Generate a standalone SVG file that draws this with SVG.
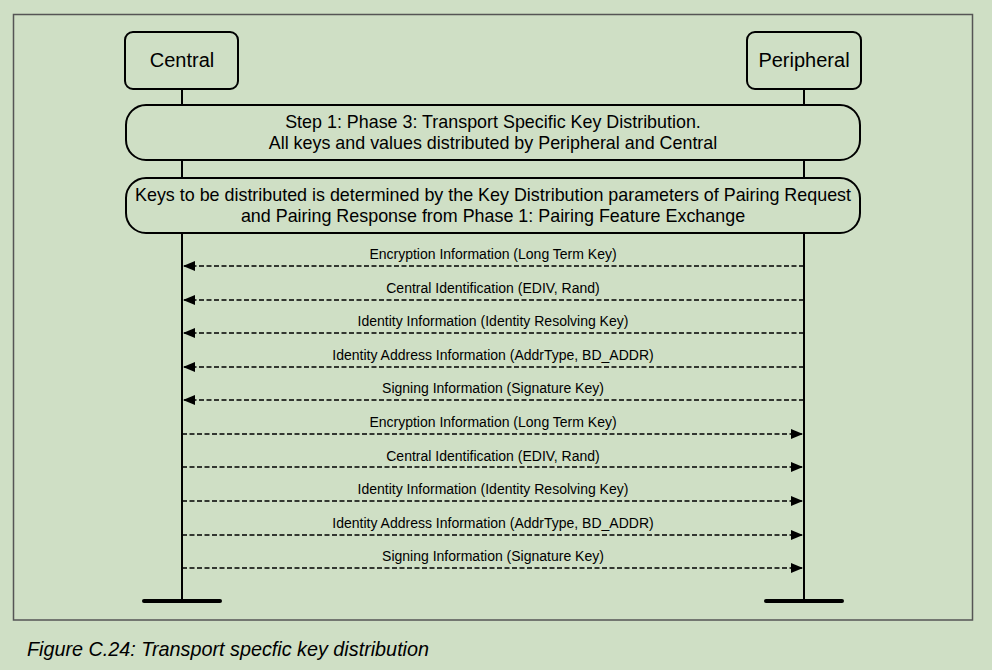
<svg xmlns="http://www.w3.org/2000/svg" width="992" height="670" viewBox="0 0 992 670">
<style>
.bg{fill:#cfdfc5}
.box{fill:#cfdfc5;stroke:#000;stroke-width:2}
.life{stroke:#000;stroke-width:2}
.bar{stroke:#000;stroke-width:4;stroke-linecap:round}
.msg{stroke:#000;stroke-width:1.6;stroke-dasharray:5,2.5;fill:none}
.t{font-family:"Liberation Sans",Arial,sans-serif;fill:#000;text-anchor:middle}
.node{font-size:20px}
.note{font-size:17.9px}
.lbl{font-size:14px}
.cap{font-family:"Liberation Sans",Arial,sans-serif;font-style:italic;font-size:19.8px;fill:#000}
</style>
<defs>
<marker id="ah" viewBox="0 0 12 10" refX="12" refY="5" markerWidth="12" markerHeight="10" markerUnits="userSpaceOnUse" orient="auto">
<path d="M0,0 L12,5 L0,10 Z" fill="#000"/>
</marker>
</defs>
<rect class="bg" x="0" y="0" width="992" height="670"/>
<rect x="13.5" y="14.5" width="959" height="605.5" fill="none" stroke="#555" stroke-width="1.5"/>
<g id="lifelines">
<line class="life" x1="182" y1="89" x2="182" y2="601"/>
<line class="life" x1="804" y1="89" x2="804" y2="601"/>
<line class="bar" x1="144" y1="601" x2="220" y2="601"/>
<line class="bar" x1="766" y1="601" x2="842" y2="601"/>
</g>
<g id="central">
<rect class="box" x="125" y="32" width="113" height="57" rx="8"/>
<text class="t node" x="182" y="67">Central</text>
</g>
<g id="peripheral">
<rect class="box" x="747" y="32" width="114" height="57" rx="8"/>
<text class="t node" x="804" y="67">Peripheral</text>
</g>
<g id="step1">
<rect class="box" x="126" y="105" width="734" height="55" rx="20"/>
<text class="t note" x="493" y="128">Step 1: Phase 3: Transport Specific Key Distribution.</text>
<text class="t note" x="493" y="149">All keys and values distributed by Peripheral and Central</text>
</g>
<g id="keysnote">
<rect class="box" x="126" y="178" width="734" height="55" rx="20"/>
<text class="t note" x="493" y="201">Keys to be distributed is determined by the Key Distribution parameters of Pairing Request</text>
<text class="t note" x="493" y="222">and Pairing Response from Phase 1: Pairing Feature Exchange</text>
</g>
<g id="connectors">
<line class="msg" x1="804" y1="266" x2="183" y2="266" marker-end="url(#ah)"/>
<line class="msg" x1="804" y1="300" x2="183" y2="300" marker-end="url(#ah)"/>
<line class="msg" x1="804" y1="333" x2="183" y2="333" marker-end="url(#ah)"/>
<line class="msg" x1="804" y1="367" x2="183" y2="367" marker-end="url(#ah)"/>
<line class="msg" x1="804" y1="400" x2="183" y2="400" marker-end="url(#ah)"/>
<line class="msg" x1="182" y1="434" x2="803" y2="434" marker-end="url(#ah)"/>
<line class="msg" x1="182" y1="467" x2="803" y2="467" marker-end="url(#ah)"/>
<line class="msg" x1="182" y1="501" x2="803" y2="501" marker-end="url(#ah)"/>
<line class="msg" x1="182" y1="535" x2="803" y2="535" marker-end="url(#ah)"/>
<line class="msg" x1="182" y1="568" x2="803" y2="568" marker-end="url(#ah)"/>
<text class="t lbl" x="493" y="259">Encryption Information (Long Term Key)</text>
<text class="t lbl" x="493" y="293">Central Identification (EDIV, Rand)</text>
<text class="t lbl" x="493" y="326">Identity Information (Identity Resolving Key)</text>
<text class="t lbl" x="493" y="360">Identity Address Information (AddrType, BD_ADDR)</text>
<text class="t lbl" x="493" y="393">Signing Information (Signature Key)</text>
<text class="t lbl" x="493" y="427">Encryption Information (Long Term Key)</text>
<text class="t lbl" x="493" y="461">Central Identification (EDIV, Rand)</text>
<text class="t lbl" x="493" y="494">Identity Information (Identity Resolving Key)</text>
<text class="t lbl" x="493" y="528">Identity Address Information (AddrType, BD_ADDR)</text>
<text class="t lbl" x="493" y="561">Signing Information (Signature Key)</text>
</g>
<text class="cap" x="27" y="656">Figure C.24: Transport specfic key distribution</text>
</svg>
